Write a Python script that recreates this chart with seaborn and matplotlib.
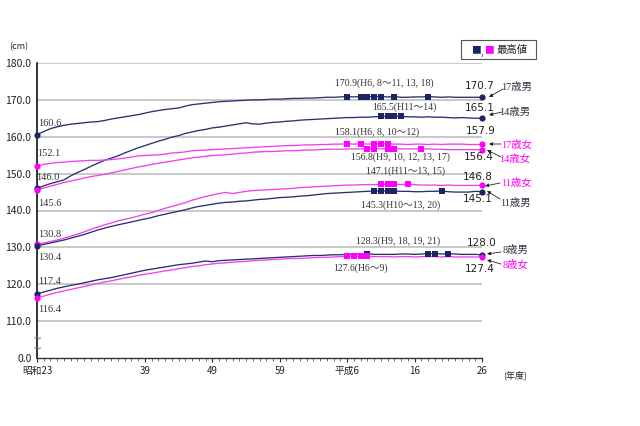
import matplotlib
matplotlib.use("Agg")
import matplotlib.pyplot as plt
import numpy as np
import pandas as pd
import seaborn as sns
from matplotlib.patches import Rectangle

# ---------------- data ----------------
years = list(range(1948, 2015))

boys17 = [160.6, 161.4,
          162.2, 162.7, 163.1, 163.4, 163.6, 163.8, 164.0, 164.1, 164.4, 164.8,
          165.1, 165.4, 165.7, 166.0, 166.4, 166.8, 167.1, 167.4, 167.6, 167.8,
          168.3, 168.7, 168.9, 169.1, 169.3, 169.5, 169.6, 169.7, 169.8, 169.9,
          170.0, 170.0, 170.1, 170.2, 170.2, 170.3, 170.4, 170.4, 170.5, 170.5,
          170.6, 170.7, 170.7, 170.8, 170.9, 170.8, 170.9, 170.9, 170.9, 170.9,
          170.8, 170.9, 170.7, 170.7, 170.8, 170.8, 170.9, 170.8, 170.7, 170.8,
          170.7, 170.7, 170.7, 170.7, 170.7]
boys14 = [146.0, 146.7,
          147.3, 147.8, 148.3, 149.4, 150.3, 151.1, 152.0, 152.8, 153.6, 154.2,
          154.8, 155.6, 156.3, 157.0, 157.6, 158.2, 158.8, 159.3, 159.9, 160.3,
          160.9, 161.3, 161.7, 162.0, 162.4, 162.6, 162.9, 163.2, 163.5, 163.8,
          163.5, 163.4, 163.7, 163.9, 164.0, 164.2, 164.3, 164.5, 164.6, 164.7,
          164.8, 164.9, 165.0, 165.1, 165.2, 165.2, 165.3, 165.3, 165.4, 165.5,
          165.5, 165.5, 165.5, 165.4, 165.4, 165.3, 165.4, 165.3, 165.3, 165.2,
          165.1, 165.2, 165.1, 165.0, 165.1]
girls17 = [152.1, 152.5,
           152.8, 153.0, 153.1, 153.3, 153.4, 153.5, 153.6, 153.6, 153.7, 153.8,
           154.0, 154.2, 154.5, 154.8, 154.9, 155.0, 155.1, 155.3, 155.6, 155.7,
           155.9, 156.2, 156.3, 156.4, 156.5, 156.6, 156.7, 156.8, 156.9, 157.0,
           157.1, 157.2, 157.3, 157.4, 157.5, 157.6, 157.6, 157.7, 157.8, 157.8,
           157.9, 157.9, 158.0, 158.0, 158.1, 158.0, 158.1, 158.0, 158.1, 158.1,
           158.1, 158.0, 158.0, 157.9, 158.0, 158.0, 157.9, 158.0, 157.9, 158.0,
           158.0, 158.0, 157.9, 157.9, 157.9]
girls14 = [145.6, 146.1,
           146.6, 147.1, 147.6, 148.0, 148.4, 148.8, 149.2, 149.5, 149.8, 150.2,
           150.6, 151.0, 151.4, 151.8, 152.1, 152.5, 152.8, 153.1, 153.4, 153.7,
           154.0, 154.3, 154.5, 154.7, 154.9, 155.0, 155.1, 155.3, 155.5, 155.6,
           155.8, 155.9, 156.0, 156.0, 156.1, 156.2, 156.2, 156.3, 156.4, 156.4,
           156.5, 156.6, 156.6, 156.6, 156.7, 156.7, 156.7, 156.8, 156.8, 156.7,
           156.8, 156.8, 156.7, 156.7, 156.7, 156.8, 156.7, 156.6, 156.6, 156.5,
           156.5, 156.5, 156.5, 156.5, 156.4]
girls11 = [130.8, 131.2,
           131.6, 132.0, 132.5, 133.0, 133.6, 134.2, 134.9, 135.5, 136.1, 136.6,
           137.2, 137.6, 138.0, 138.5, 139.0, 139.4, 140.0, 140.6, 141.1, 141.6,
           142.1, 142.8, 143.3, 143.8, 144.2, 144.6, 144.9, 144.6, 144.9, 145.2,
           145.4, 145.5, 145.6, 145.7, 145.8, 145.9, 146.0, 146.2, 146.3, 146.4,
           146.5, 146.6, 146.7, 146.8, 146.9, 146.9, 147.0, 147.0, 147.0, 147.1,
           147.1, 147.1, 147.0, 147.1, 147.0, 146.9, 146.9, 146.9, 146.8, 146.9,
           146.8, 146.8, 146.8, 146.8, 146.8]
boys11 = [130.4, 130.8,
          131.2, 131.6, 132.0, 132.5, 133.0, 133.5, 134.1, 134.7, 135.2, 135.7,
          136.1, 136.5, 136.9, 137.3, 137.7, 138.1, 138.6, 139.0, 139.4, 139.8,
          140.2, 140.7, 141.1, 141.4, 141.7, 142.0, 142.2, 142.3, 142.5, 142.6,
          142.8, 143.0, 143.1, 143.3, 143.5, 143.6, 143.7, 143.9, 144.0, 144.2,
          144.4, 144.6, 144.7, 144.8, 144.9, 145.0, 145.1, 145.2, 145.3, 145.3,
          145.3, 145.3, 145.2, 145.2, 145.1, 145.1, 145.2, 145.2, 145.3, 145.1,
          145.0, 145.0, 145.0, 145.2, 145.1]
boys8 = [117.4, 117.9,
         118.4, 118.9, 119.3, 119.7, 120.0, 120.4, 120.8, 121.2, 121.5, 121.8,
         122.2, 122.6, 123.0, 123.4, 123.8, 124.1, 124.4, 124.7, 125.0, 125.3,
         125.5, 125.7, 126.0, 126.3, 126.1, 126.4, 126.5, 126.6, 126.7, 126.8,
         126.9, 127.0, 127.1, 127.2, 127.3, 127.4, 127.5, 127.6, 127.7, 127.8,
         127.8, 127.9, 128.0, 128.0, 128.1, 128.1, 128.2, 128.3, 128.1, 128.1,
         128.1, 128.1, 128.2, 128.2, 128.1, 128.2, 128.3, 128.3, 128.2, 128.3,
         128.2, 128.1, 128.1, 128.1, 128.0]
girls8 = [116.4, 116.8,
          117.3, 117.8, 118.2, 118.6, 119.0, 119.4, 119.8, 120.2, 120.6, 120.9,
          121.3, 121.7, 122.0, 122.4, 122.7, 123.0, 123.3, 123.6, 123.9, 124.2,
          124.5, 124.8, 125.0, 125.3, 125.5, 125.7, 125.8, 126.0, 126.1, 126.2,
          126.4, 126.5, 126.6, 126.7, 126.8, 126.9, 127.0, 127.0, 127.1, 127.2,
          127.3, 127.3, 127.4, 127.5, 127.6, 127.6, 127.6, 127.6, 127.5, 127.5,
          127.5, 127.4, 127.5, 127.5, 127.4, 127.5, 127.5, 127.5, 127.4, 127.5,
          127.4, 127.4, 127.4, 127.4, 127.4]

max_labels = {
    "17歳男": "170.9(H6, 8～11, 13, 18)",
    "14歳男": "165.5(H11～14)",
    "17歳女": "158.1(H6, 8, 10～12)",
    "14歳女": "156.8(H9, 10, 12, 13, 17)",
    "11歳女": "147.1(H11～13, 15)",
    "11歳男": "145.3(H10～13, 20)",
    "8歳男": "128.3(H9, 18, 19, 21)",
    "8歳女": "127.6(H6～9)",
}

tick_years = [1948, 1964, 1974, 1984, 1994, 2004, 2014]
tick_labels = ["昭和23", "39", "49", "59", "平成6", "16", "26"]
y_ticks = [100, 110, 120, 130, 140, 150, 160, 170, 180]
y_tick_labels = ["0.0", "110.0", "120.0", "130.0", "140.0", "150.0", "160.0", "170.0", "180.0"]

series = {
    "17歳男": boys17, "14歳男": boys14, "17歳女": girls17, "14歳女": girls14,
    "11歳女": girls11, "11歳男": boys11, "8歳男": boys8, "8歳女": girls8,
}
for k, v in series.items():
    assert len(v) == len(years), (k, len(v))

# ---------------- style ----------------
sns.set_theme(style="white")
plt.rcParams["font.family"] = ["Noto Sans CJK JP", "DejaVu Sans"]

NAVY_LINE = "#2b2f6e"
NAVY_MK = "#1b2563"
PINK_LINE = "#f040f0"
PINK_MK = "#ff00ff"
LBL_FONT = ["Liberation Serif", "Noto Sans CJK JP"]

W, H = 640, 426
fig = plt.figure(figsize=(6.4, 4.26), dpi=100)
ax = fig.add_axes([37 / W, 1 - 358 / H, 445 / W, 295 / H])


def fx(x):
    return x / W


def fy(y):
    return 1 - y / H


df = pd.concat(
    [pd.DataFrame({"year": years, "height": v, "series": k}) for k, v in series.items()],
    ignore_index=True,
)

for name, vals in series.items():
    boy = name.endswith("男")
    lc = NAVY_LINE if boy else PINK_LINE
    mc = NAVY_MK if boy else PINK_MK
    sub = df[df["series"] == name]
    sns.lineplot(data=sub, x="year", y="height", color=lc, lw=0.95, ax=ax,
                 legend=False, zorder=3)
    arr = np.array(vals)
    mx = arr.max()
    sel = sub[np.isclose(sub["height"], mx)]
    sns.scatterplot(data=sel, x="year", y="height", marker="s", s=22, color=mc,
                    edgecolor=mc, linewidth=0, ax=ax, legend=False, zorder=5)
    ends = sub.iloc[[0, -1]]
    sns.scatterplot(data=ends, x="year", y="height", marker="o", s=20, color=mc,
                    edgecolor=mc, linewidth=0, ax=ax, legend=False, zorder=6,
                    clip_on=False)

ax.set_xlim(1948, 2014)
ax.set_ylim(100, 180)
ax.set_xlabel("")
ax.set_ylabel("")

# grid lines
for v in y_ticks[1:]:
    ax.axhline(v, color="#c4c4c4", lw=1.3, zorder=1)

ax.set_yticks(y_ticks)
ax.set_yticklabels(y_tick_labels, fontsize=7.5, color="#222222")
ax.tick_params(axis="y", length=0, pad=4)
ax.set_xticks(tick_years)
ax.set_xticklabels(tick_labels, fontsize=7, color="#222222")
ax.set_xticks(years, minor=True)
ax.tick_params(axis="x", which="major", length=3, width=0.8, direction="out",
               color="#333333", pad=3, bottom=True)
ax.tick_params(axis="x", which="minor", length=2, width=0.6, direction="out",
               color="#555555", bottom=True)

for s in ["top", "right"]:
    ax.spines[s].set_visible(False)
ax.spines["left"].set_color("#111111")
ax.spines["left"].set_linewidth(1.2)
ax.spines["bottom"].set_color("#333333")
ax.spines["bottom"].set_linewidth(1.0)

# axis break marks
for yy in (339, 349):
    fig.text(fx(37), fy(yy), "~", ha="center", va="center", fontsize=8,
             color="#777777", family="DejaVu Sans")

# units
fig.text(fx(19), fy(47), "(cm)", ha="center", va="center", fontsize=6.5, color="#222222")
fig.text(fx(515), fy(375), "(年度)", ha="center", va="center", fontsize=6.5, color="#222222")

# legend box
fig.patches.append(Rectangle((fx(461), fy(59)), (536 - 461) / W, 19 / H,
                             transform=fig.transFigure, facecolor="white",
                             edgecolor="#555555", lw=0.8))
fig.text(fx(476), fy(50), "■", ha="center", va="center", fontsize=7, color=NAVY_MK)
fig.text(fx(482), fy(52), ",", ha="center", va="center", fontsize=7, color="#222222")
fig.text(fx(489), fy(50), "■", ha="center", va="center", fontsize=7, color=PINK_MK)
fig.text(fx(512), fy(50), "最高値", ha="center", va="center", fontsize=7.5, color="#222222")

# start labels
start_pos = {"17歳男": (50, 123), "17歳女": (49, 153), "14歳男": (48, 177),
             "14歳女": (50, 203), "11歳女": (50, 234), "11歳男": (50, 257),
             "8歳男": (50, 281), "8歳女": (50, 309)}
end_pos = {"17歳男": (480, 86), "14歳男": (480, 108), "17歳女": (481, 131),
           "14歳女": (479, 157), "11歳女": (478, 177), "11歳男": (478, 199),
           "8歳男": (482, 243), "8歳女": (480, 269)}
max_pos = {"17歳男": (384, 83), "14歳男": (404, 107), "17歳女": (377, 132),
           "14歳女": (400, 157), "11歳女": (405, 171), "11歳男": (401, 205),
           "8歳男": (398, 241), "8歳女": (360, 268)}
name_pos = {"17歳男": ((517, 87), (489, 97), (503, 89)),
            "14歳男": ((515, 112), (489, 115), (502, 112)),
            "17歳女": ((517, 145), (489, 144), (501, 144)),
            "14歳女": ((515, 159), (487, 150), (501, 157)),
            "11歳女": ((516, 183), (485, 186), (500, 183)),
            "11歳男": ((515, 203), (487, 191), (500, 199)),
            "8歳男": ((516, 250), (487, 254), (501, 252)),
            "8歳女": ((516, 265), (487, 260), (501, 264))}

for name, vals in series.items():
    boy = name.endswith("男")
    tc = "#333344" if boy else PINK_MK
    sx, sy = start_pos[name]
    fig.text(fx(sx), fy(sy), f"{vals[0]:.1f}", ha="center", va="center",
             fontsize=7.5, color="#333333", family=LBL_FONT)
    ex, ey = end_pos[name]
    fig.text(fx(ex), fy(ey), f"{vals[-1]:.1f}", ha="center", va="center",
             fontsize=7.5, color="#222222", family=["DejaVu Sans"])
    mx_, my_ = max_pos[name]
    fig.text(fx(mx_), fy(my_), max_labels[name], ha="center", va="center",
             fontsize=7, color="#333333", family=LBL_FONT)
    (tx, ty), tip, tail = name_pos[name]
    fig.text(fx(tx), fy(ty), name, ha="center", va="center", fontsize=7.5,
             color=tc, family=LBL_FONT)
    ax.annotate("", xy=(fx(tip[0]), fy(tip[1])), xycoords="figure fraction",
                xytext=(fx(tail[0]), fy(tail[1])), textcoords="figure fraction",
                arrowprops=dict(arrowstyle="-|>", lw=0.6, color="#222222",
                                mutation_scale=5, shrinkA=0, shrinkB=0))

fig.savefig("out.png", dpi=100, facecolor="white")
